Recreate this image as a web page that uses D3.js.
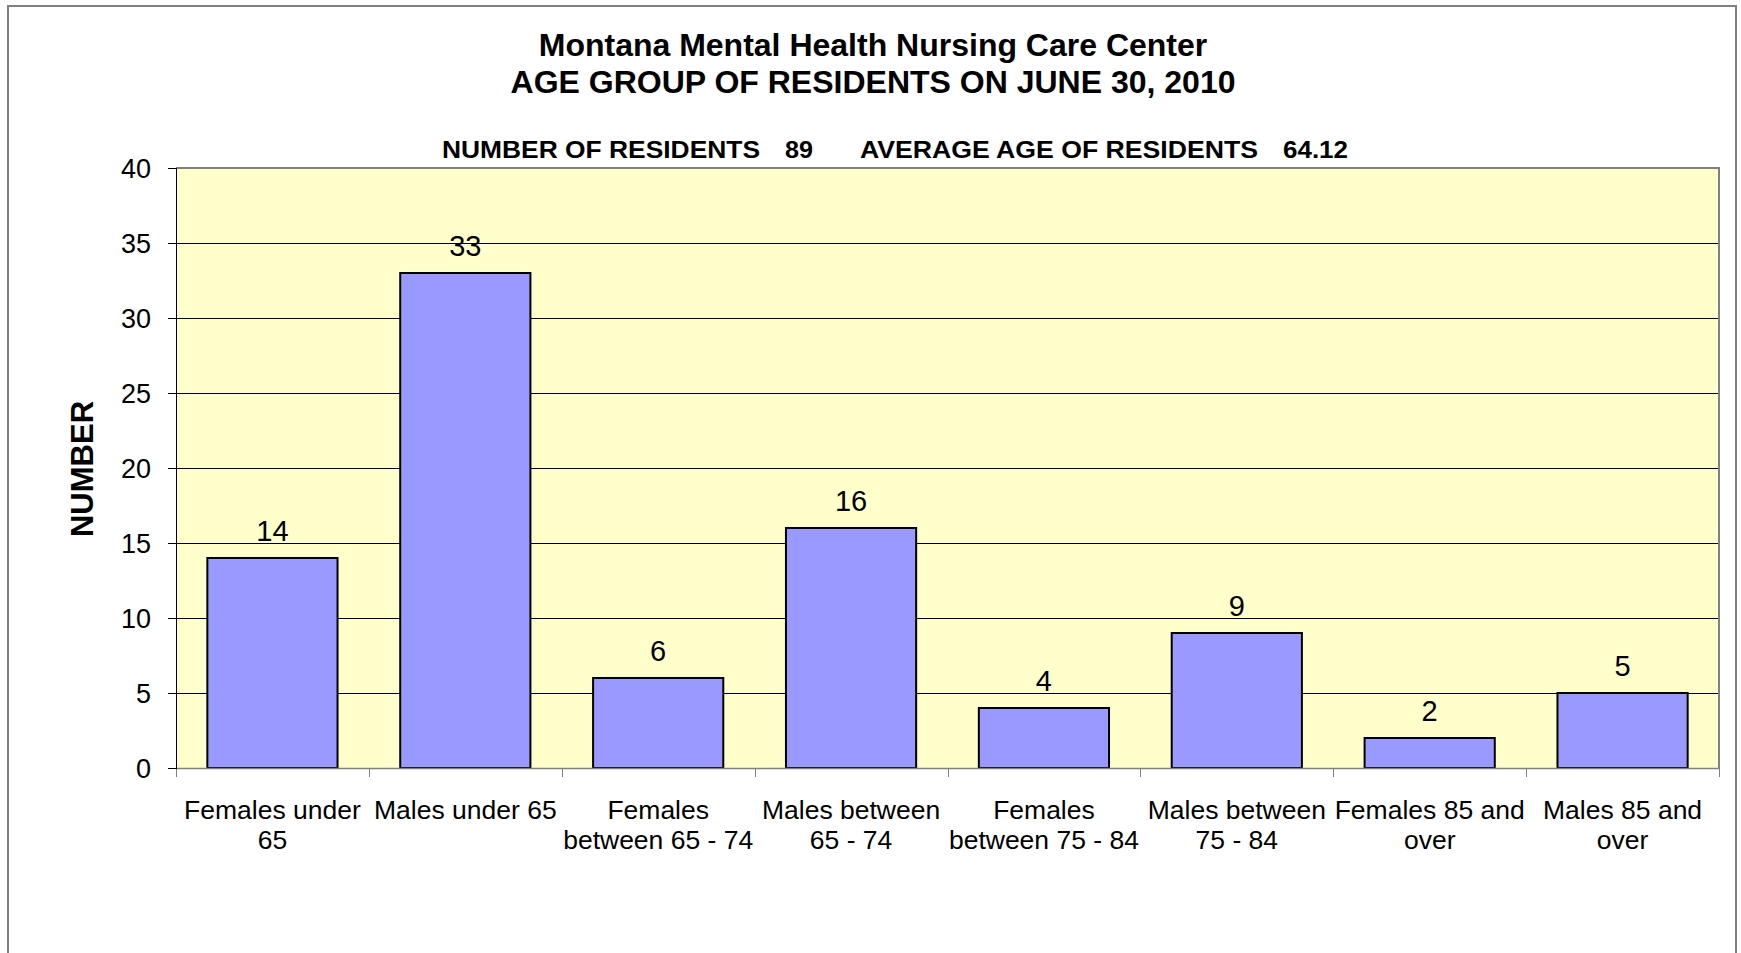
<!DOCTYPE html>
<html>
<head>
<meta charset="utf-8">
<script src="https://cdn.jsdelivr.net/npm/d3@7"></script>
<style>
  html, body { margin: 0; padding: 0; background: #fff; }
  svg { display: block; font-family: "Liberation Sans", Arial, Helvetica, sans-serif; }
</style>
</head>
<body>
<svg id="chart" width="1741" height="953"></svg>
<script>
const categories = [
  "Females under 65", "Males under 65", "Females between 65 - 74", "Males between 65 - 74",
  "Females between 75 - 84", "Males between 75 - 84", "Females 85 and over", "Males 85 and over"
];
const categoryLines = [
  ["Females under", "65"], ["Males under 65"], ["Females", "between 65 - 74"], ["Males between", "65 - 74"],
  ["Females", "between 75 - 84"], ["Males between", "75 - 84"], ["Females 85 and", "over"], ["Males 85 and", "over"]
];
const values = [14, 33, 6, 16, 4, 9, 2, 5];
const yTicks = [0, 5, 10, 15, 20, 25, 30, 35, 40];
const titleLines = ["Montana Mental Health Nursing Care Center", "AGE GROUP OF RESIDENTS ON JUNE 30, 2010"];
const subtitleParts = ["NUMBER OF RESIDENTS", "89", "AVERAGE AGE OF RESIDENTS", "64.12"];
const yAxisTitle = "NUMBER";

const svg = d3.select("#chart");
const plot = { left: 176, right: 1719, top: 168, bottom: 768 };

// Outer chart border
svg.append("rect").attr("x", 8).attr("y", 6).attr("width", 1728).attr("height", 960)
  .attr("fill", "#fff").attr("stroke", "#808080").attr("stroke-width", 2);

const x = d3.scaleBand().domain(categories).range([plot.left, plot.right])
  .paddingInner(0.325).paddingOuter(0.1625);
const y = d3.scaleLinear().domain([0, 40]).range([plot.bottom, plot.top]);

// Plot area background
svg.append("rect").attr("x", plot.left).attr("y", plot.top)
  .attr("width", plot.right - plot.left).attr("height", plot.bottom - plot.top)
  .attr("fill", "#FFFFCC");

// Gridlines
svg.append("g").selectAll("line").data(yTicks.filter(t => t > 0 && t < 40)).join("line")
  .attr("x1", plot.left).attr("x2", plot.right)
  .attr("y1", d => Math.round(y(d)) + 0.5).attr("y2", d => Math.round(y(d)) + 0.5)
  .attr("stroke", "#000").attr("stroke-width", 1);

// Plot border (top and right gray)
svg.append("path")
  .attr("d", `M${plot.left},${plot.top} H${plot.right} V${plot.bottom}`)
  .attr("fill", "none").attr("stroke", "#808080").attr("stroke-width", 2);

// Bars
svg.append("g").selectAll("rect").data(values).join("rect")
  .attr("x", (d, i) => x(categories[i]))
  .attr("y", d => y(d))
  .attr("width", x.bandwidth())
  .attr("height", d => y(0) - y(d))
  .attr("fill", "#9999FF").attr("stroke", "#000").attr("stroke-width", 2);

// Value labels
svg.append("g").selectAll("text").data(values).join("text")
  .attr("x", (d, i) => x(categories[i]) + x.bandwidth() / 2)
  .attr("y", d => y(d) - 17)
  .attr("text-anchor", "middle").attr("font-size", 29).attr("fill", "#000")
  .text(d => d);

// X axis line and ticks
svg.append("line").attr("x1", plot.left).attr("x2", plot.right)
  .attr("y1", plot.bottom + 0.5).attr("y2", plot.bottom + 0.5)
  .attr("stroke", "#808080").attr("stroke-width", 1.5);
const gap = (x.step() - x.bandwidth()) / 2;
const xTickPos = categories.map(c => x(c) - gap).concat([x(categories[categories.length - 1]) + x.bandwidth() + gap]);
svg.append("g").selectAll("line").data(xTickPos).join("line")
  .attr("x1", d => Math.round(d) + 0.5).attr("x2", d => Math.round(d) + 0.5)
  .attr("y1", plot.bottom).attr("y2", plot.bottom + 9)
  .attr("stroke", "#808080").attr("stroke-width", 1);

// Category labels
const catG = svg.append("g").selectAll("text").data(categoryLines).join("text")
  .attr("x", (d, i) => x(categories[i]) + x.bandwidth() / 2)
  .attr("y", 818.5)
  .attr("text-anchor", "middle").attr("font-size", 26.5).attr("fill", "#000");
catG.selectAll("tspan").data(d => d).join("tspan")
  .attr("x", function() { return d3.select(this.parentNode).attr("x"); })
  .attr("dy", (d, i) => i === 0 ? 0 : 30)
  .text(d => d);

// Y axis
svg.append("line").attr("x1", plot.left + 0.5).attr("x2", plot.left + 0.5)
  .attr("y1", plot.top).attr("y2", plot.bottom + 1)
  .attr("stroke", "#000").attr("stroke-width", 1);
svg.append("g").selectAll("line").data(yTicks).join("line")
  .attr("x1", plot.left - 8).attr("x2", plot.left)
  .attr("y1", d => Math.round(y(d)) + 0.5).attr("y2", d => Math.round(y(d)) + 0.5)
  .attr("stroke", "#000").attr("stroke-width", 1);
svg.append("g").selectAll("text").data(yTicks).join("text")
  .attr("x", 151).attr("y", d => y(d) + 9.5)
  .attr("text-anchor", "end").attr("font-size", 27).attr("fill", "#000")
  .text(d => d);

// Y axis title
svg.append("text")
  .attr("transform", "translate(93,469) rotate(-90)")
  .attr("text-anchor", "middle").attr("font-size", 31).attr("font-weight", "bold")
  .text(yAxisTitle);

// Titles
svg.append("g").selectAll("text").data(titleLines).join("text")
  .attr("x", 873).attr("y", (d, i) => 55.5 + i * 37.5)
  .attr("text-anchor", "middle").attr("font-size", 32).attr("font-weight", "bold")
  .text(d => d);

// Subtitle parts
const subX = [442, 785, 860, 1283];
const subW = [318, 28, 398, 65];
svg.append("g").selectAll("text").data(subtitleParts).join("text")
  .attr("x", (d, i) => subX[i]).attr("y", 158)
  .attr("font-size", 24).attr("font-weight", "bold")
  .attr("textLength", (d, i) => subW[i]).attr("lengthAdjust", "spacingAndGlyphs")
  .text(d => d);
</script>
</body>
</html>
